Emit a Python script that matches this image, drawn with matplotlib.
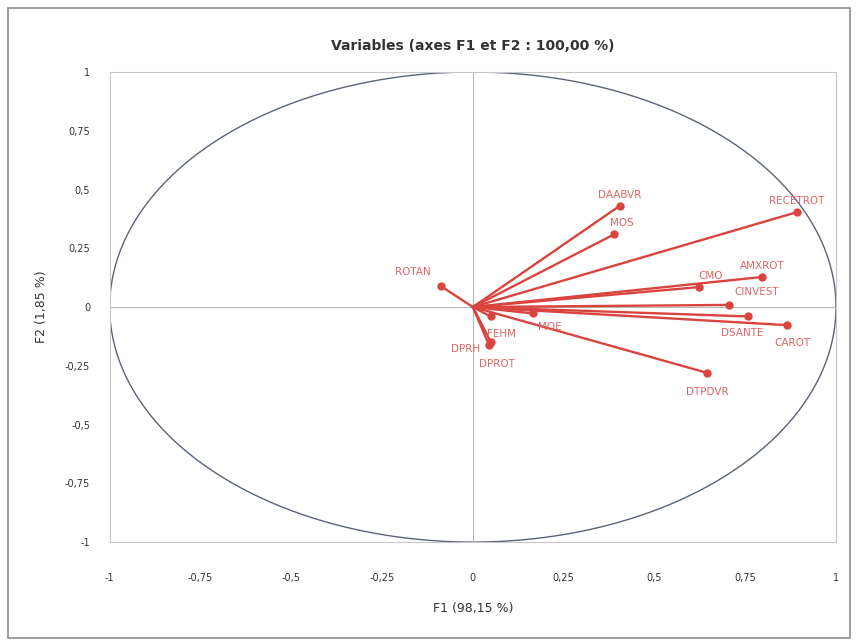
import numpy as np
import matplotlib.pyplot as plt
from matplotlib.patches import Rectangle

variables = ['RECETROT', 'DAABVR', 'MOS', 'AMXROT', 'CMO', 'CINVEST', 'DSANTE', 'CAROT',
             'DTPDVR', 'ROTAN', 'FEHM', 'MOE', 'DPRH', 'DPROT']
f1 = [0.893, 0.404, 0.390, 0.797, 0.624, 0.706, 0.758, 0.865, 0.645, -0.088, 0.049, 0.165, 0.050, 0.044]
f2 = [0.404, 0.430, 0.310, 0.128, 0.085, 0.009, -0.040, -0.077, -0.280, 0.089, -0.040, -0.027, -0.150, -0.160]

# label offsets in points (dx, dy)
offsets = {
    'RECETROT': (0, 8), 'DAABVR': (0, 8), 'MOS': (5, 8), 'AMXROT': (0, 8),
    'CMO': (8, 8), 'CINVEST': (20, 9), 'DSANTE': (-4, -12), 'CAROT': (4, -13),
    'DTPDVR': (0, -14), 'ROTAN': (-20, 10), 'FEHM': (8, -13), 'MOE': (12, -10),
    'DPRH': (-18, -5), 'DPROT': (6, -14),
}

ticks = [-1, -0.75, -0.5, -0.25, 0, 0.25, 0.5, 0.75, 1]
tick_labels = ['-1', '-0,75', '-0,5', '-0,25', '0', '0,25', '0,5', '0,75', '1']

red = '#d9443f'
label_red = '#e06666'

fig = plt.figure(figsize=(8.57, 6.43), dpi=100)
fig.patches.append(Rectangle((8 / 857, 5 / 643), 842 / 857, 630 / 643, transform=fig.transFigure,
                             fill=False, edgecolor='#8c8c8c', linewidth=1.2))
ax = fig.add_axes([0.128, 0.157, 0.8475, 0.731])

# correlation circle
t = np.linspace(0, 2 * np.pi, 400)
ax.plot(np.cos(t), np.sin(t), color='#5a6478', linewidth=1.0)
ax.axhline(0, color='#b8b8b8', linewidth=0.8)
ax.axvline(0, color='#b8b8b8', linewidth=0.8)

for name, x, y in zip(variables, f1, f2):
    ax.plot([0, x], [0, y], color=red, linewidth=1.7, solid_capstyle='round')
    ax.plot(x, y, 'o', color=red, markersize=5)
    dx, dy = offsets[name]
    ax.annotate(name, (x, y), xytext=(dx, dy), textcoords='offset points',
                ha='center', va='center', color=label_red, fontsize=7.5)

ax.set_xlim(-1, 1)
ax.set_ylim(-1, 1)
ax.set_xticks(ticks)
ax.set_xticklabels(tick_labels)
ax.set_yticks(ticks)
ax.set_yticklabels(tick_labels)
ax.tick_params(length=0, labelsize=7, colors='#333333')
ax.tick_params(axis='x', pad=22)
ax.tick_params(axis='y', pad=14)
for s in ax.spines.values():
    s.set_color('#c8c8c8')
    s.set_linewidth(0.8)

ax.set_xlabel('F1 (98,15 %)', fontsize=9, color='#333333', labelpad=14)
ax.set_ylabel('F2 (1,85 %)', fontsize=9, color='#333333', labelpad=12)
ax.set_title('Variables (axes F1 et F2 : 100,00 %)', fontsize=10, color='#333333',
             fontweight='semibold', pad=16)

fig.savefig('out.png', dpi=100)
